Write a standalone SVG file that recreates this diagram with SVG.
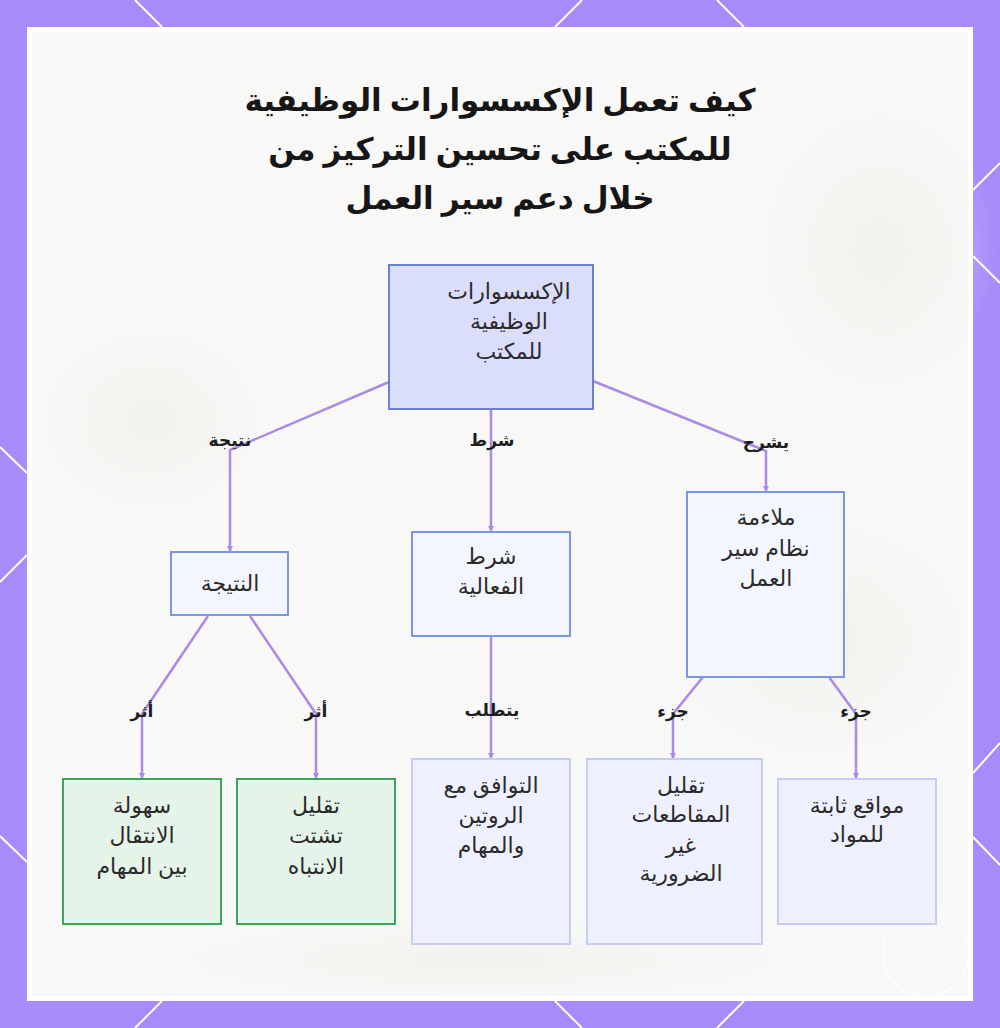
<svg xmlns="http://www.w3.org/2000/svg" width="1000" height="1028" viewBox="0 0 1000 1028">
<style>
.t{font-family:"Noto Sans","DejaVu Sans",sans-serif;fill:#2b2b2b;text-anchor:middle;direction:rtl}
.title{font-size:31px;font-weight:bold;fill:#161616}
.nt{font-size:22px}
.el{font-size:17px;font-weight:bold;fill:#1e1e1e}
.edge{fill:none;stroke:#A98BE6;stroke-width:2.5;marker-end:url(#ah)}
.main{fill:#F4F6FE;stroke:#7E95E2;stroke-width:2}
.leaf{fill:#EEF1FD;stroke:#C6CCF3;stroke-width:2}
.green{fill:#E5F4E8;stroke:#3FA45B;stroke-width:2}
.deco{stroke:#ffffff;stroke-width:2;fill:none}
</style>
<defs>
<marker id="ah" markerWidth="6" markerHeight="6" refX="5" refY="3" orient="auto" markerUnits="userSpaceOnUse">
<path d="M0,0 L6,3 L0,6 z" fill="#A98BE6"/>
</marker>
<radialGradient id="blob" cx="0.5" cy="0.5" r="0.5">
<stop offset="0" stop-color="#EDEDEA" stop-opacity="0.6"/>
<stop offset="1" stop-color="#EDEDEA" stop-opacity="0"/>
</radialGradient>
</defs>
<g id="frame">
<rect x="0" y="0" width="1000" height="1028" fill="#A78BFA"/>
<path class="deco" d="M135,0 L162,27 M582,0 L555,27 M717,0 L744,27 M135,1028 L162,1001 M555,1001 L582,1028 M717,1028 L744,1001 M0,447 L27,473 M27,555 L0,582 M0,836 L27,862 M973,190 L1000,163 M973,256 L1000,283 M973,773 L1000,743 M973,837 L1000,865"/>
<rect x="27" y="27" width="946" height="974" fill="#ffffff"/>
<rect x="32" y="32" width="936" height="964" fill="#F8F8F6"/>
<ellipse cx="880" cy="250" rx="120" ry="140" fill="url(#blob)"/>
<ellipse cx="150" cy="420" rx="110" ry="90" fill="url(#blob)"/>
<ellipse cx="820" cy="640" rx="150" ry="120" fill="url(#blob)"/>
<ellipse cx="480" cy="960" rx="300" ry="40" fill="url(#blob)"/>
<circle cx="926" cy="953" r="43" fill="none" stroke="#ffffff" stroke-width="1.5" opacity="0.8"/>
</g>
<g id="title">
<text class="t title" x="500" y="111">كيف تعمل الإكسسوارات الوظيفية</text>
<text class="t title" x="500" y="160">للمكتب على تحسين التركيز من</text>
<text class="t title" x="500" y="209">خلال دعم سير العمل</text>
</g>
<g id="connectors">
<path class="edge" d="M389,382 L230,450 L230,551"/>
<path class="edge" d="M491,409 L491,531"/>
<path class="edge" d="M593,381 L766,451 L766,491"/>
<path class="edge" d="M208,616 L142,714 L142,778"/>
<path class="edge" d="M250,616 L316,714 L316,778"/>
<path class="edge" d="M491,636 L491,758"/>
<path class="edge" d="M703,677 L673,714 L673,758"/>
<path class="edge" d="M829,677 L856,714 L856,778"/>
<text class="t el" x="230" y="446">نتيجة</text>
<text class="t el" x="492" y="446">شرط</text>
<text class="t el" x="766" y="448">يشرح</text>
<text class="t el" x="142" y="717">أثر</text>
<text class="t el" x="316" y="717">أثر</text>
<text class="t el" x="492" y="716">يتطلب</text>
<text class="t el" x="673" y="717">جزء</text>
<text class="t el" x="856" y="717">جزء</text>
</g>
<g id="node-root">
<rect x="389" y="265" width="204" height="144" fill="#DADDFB" stroke="#6B7FD6" stroke-width="2"/>
<text class="t nt" x="509" y="299">الإكسسوارات</text>
<text class="t nt" x="509" y="329">الوظيفية</text>
<text class="t nt" x="509" y="359">للمكتب</text>
</g>
<g id="node-result">
<rect class="main" x="171" y="552" width="117" height="63"/>
<text class="t nt" x="230" y="591">النتيجة</text>
</g>
<g id="node-condition">
<rect class="main" x="412" y="532" width="158" height="104"/>
<text class="t nt" x="491" y="564">شرط</text>
<text class="t nt" x="491" y="594">الفعالية</text>
</g>
<g id="node-workflow">
<rect class="main" x="687" y="492" width="157" height="185"/>
<text class="t nt" x="766" y="525">ملاءمة</text>
<text class="t nt" x="766" y="556">نظام سير</text>
<text class="t nt" x="766" y="586">العمل</text>
</g>
<g id="node-ease">
<rect class="green" x="63" y="779" width="158" height="145"/>
<text class="t nt" x="142" y="813">سهولة</text>
<text class="t nt" x="142" y="843">الانتقال</text>
<text class="t nt" x="142" y="874">بين المهام</text>
</g>
<g id="node-distraction">
<rect class="green" x="237" y="779" width="158" height="145"/>
<text class="t nt" x="316" y="813">تقليل</text>
<text class="t nt" x="316" y="843">تشتت</text>
<text class="t nt" x="316" y="874">الانتباه</text>
</g>
<g id="node-routine">
<rect class="leaf" x="412" y="759" width="158" height="185"/>
<text class="t nt" x="491" y="793">التوافق مع</text>
<text class="t nt" x="491" y="823">الروتين</text>
<text class="t nt" x="491" y="853">والمهام</text>
</g>
<g id="node-interruptions">
<rect class="leaf" x="587" y="759" width="175" height="185"/>
<text class="t nt" x="681" y="793">تقليل</text>
<text class="t nt" x="681" y="822">المقاطعات</text>
<text class="t nt" x="681" y="853">غير</text>
<text class="t nt" x="681" y="881">الضرورية</text>
</g>
<g id="node-locations">
<rect class="leaf" x="778" y="779" width="158" height="145"/>
<text class="t nt" x="857" y="813">مواقع ثابتة</text>
<text class="t nt" x="857" y="842">للمواد</text>
</g>
</svg>
